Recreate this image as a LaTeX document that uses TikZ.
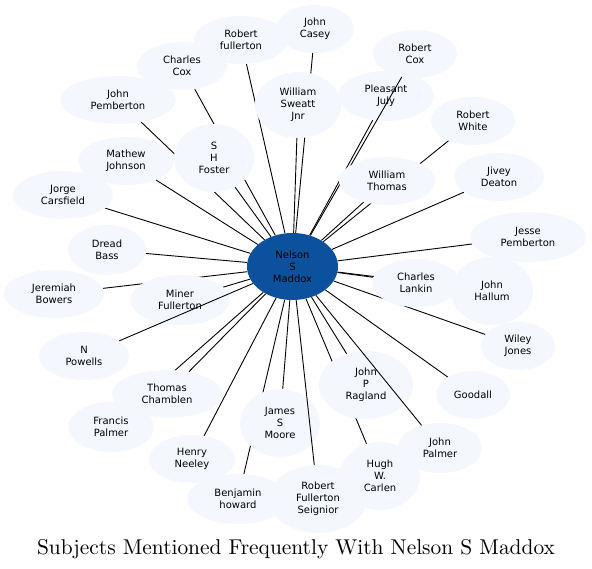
\documentclass[tikz,border=0pt]{standalone}
\usepackage{fontspec}
\newfontfamily\nodefont{DejaVu Sans}
\newfontfamily\titlefont{lmroman10-regular.otf}
\usetikzlibrary{shapes.geometric}
\pgfdeclarelayer{bg}
\pgfdeclarelayer{fg}
\pgfsetlayers{bg,main,fg}
\definecolor{lightnode}{RGB}{244,248,254}
\definecolor{hubblue}{RGB}{11,81,158}
\tikzset{
  subj/.style={ellipse, fill=lightnode, inner sep=0pt, align=center,
    font=\nodefont\fontsize{10}{12}\selectfont},
  hubnode/.style={ellipse, fill=hubblue, inner sep=0pt, align=center,
    font=\nodefont\fontsize{10}{12}\selectfont},
  sz/.style 2 args={minimum width=#1pt, minimum height=#2pt},
  link/.style={draw=black, line width=0.9pt}
}
\begin{document}
\begin{tikzpicture}[x=1pt,y=-1pt]
\useasboundingbox (0,0) rectangle (592,569);
% nodes
\node[hubnode, sz={91}{67}] (m) at (292.5,266.5) {Nelson\\S\\Maddox};
\node[subj, sz={94}{48}] (rfull) at (241,40) {Robert\\fullerton};
\node[subj, sz={78}{48}] (jcasey) at (315,29) {John\\Casey};
\node[subj, sz={90}{48}] (ccox) at (182,66) {Charles\\Cox};
\node[subj, sz={84}{48}] (rcox) at (415,54) {Robert\\Cox};
\node[subj, sz={86}{66}] (wsweatt) at (298,105) {William\\Sweatt\\Jnr};
\node[subj, sz={96}{50}] (pjuly) at (386,96) {Pleasant\\July};
\node[subj, sz={116}{48}] (jpemb) at (118,100) {John\\Pemberton};
\node[subj, sz={84}{48}] (rwhite) at (473,121) {Robert\\White};
\node[subj, sz={80}{68}] (shf) at (214,158) {S\\H\\Foster};
\node[subj, sz={96}{48}] (mjohn) at (126,161) {Mathew\\Johnson};
\begin{pgfonlayer}{fg}
\node[subj, sz={96}{48}] (wthomas) at (387,181) {William\\Thomas};
\end{pgfonlayer}
\node[subj, sz={90}{48}] (jdeaton) at (499,177) {Jivey\\Deaton};
\node[subj, sz={100}{48}] (jcars) at (63,195) {Jorge\\Carsfield};
\node[subj, sz={116}{50}] (jessep) at (528,237) {Jesse\\Pemberton};
\node[subj, sz={78}{50}] (dbass) at (107,250) {Dread\\Bass};
\node[subj, sz={88}{48}] (clankin) at (416,283) {Charles\\Lankin};
\node[subj, sz={82}{68}] (jhallum) at (492,291) {John\\Hallum};
\node[subj, sz={100}{48}] (jbowers) at (54,294) {Jeremiah\\Bowers};
\node[subj, sz={100}{50}] (minerf) at (180,300) {Miner\\Fullerton};
\node[subj, sz={74}{48}] (wjones) at (518,346) {Wiley\\Jones};
\node[subj, sz={90}{48}] (npowells) at (84,356) {N\\Powells};
\node[subj, sz={94}{68}] (jpr) at (366,385) {John\\P\\Ragland};
\node[subj, sz={110}{48}] (tcham) at (167,394) {Thomas\\Chamblen};
\node[subj, sz={74}{48}] (goodall) at (473,395) {Goodall};
\node[subj, sz={80}{68}] (jsm) at (280,423) {James\\S\\Moore};
\node[subj, sz={86}{50}] (fpalmer) at (111,427) {Francis\\Palmer};
\node[subj, sz={84}{50}] (jpalmer) at (440,448) {John\\Palmer};
\node[subj, sz={86}{48}] (hneeley) at (192,459) {Henry\\Neeley};
\node[subj, sz={80}{68}] (hwc) at (380,476) {Hugh\\W.\\Carlen};
\node[subj, sz={102}{50}] (bhoward) at (238,499) {Benjamin\\howard};
\node[subj, sz={98}{68}] (rfs) at (318,499) {Robert\\Fullerton\\Seignior};
% edges behind nodes
\begin{pgfonlayer}{bg}
\foreach \t in {rfull,jcasey,ccox,wsweatt,pjuly,jpemb,rwhite,shf,mjohn,wthomas,
  jdeaton,jcars,jessep,dbass,clankin,jhallum,jbowers,minerf,wjones,jpr,tcham,
  goodall,jsm,fpalmer,hneeley,hwc,bhoward}
  \draw[link] (m) -- (\t);
\end{pgfonlayer}
% edges over nodes
\draw[link] (m) -- (rcox);
\draw[link] (m) -- (npowells);
\draw[link] (m) -- (jpalmer);
\draw[link] (m) -- (rfs);
% title
\node[anchor=base, font=\titlefont\fontsize{21.4}{25}\selectfont] (title) at (296,554)
  {Subjects Mentioned Frequently With Nelson S Maddox};
\end{tikzpicture}
\end{document}
